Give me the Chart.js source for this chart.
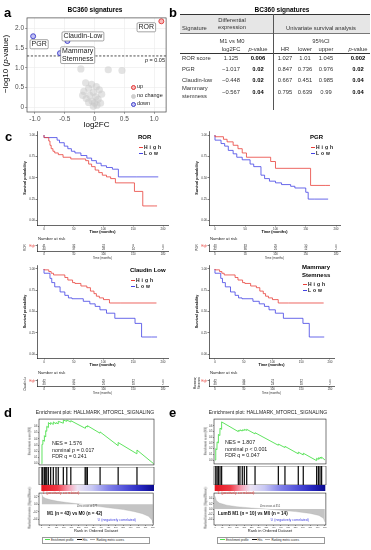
<!DOCTYPE html>
<html>
<head>
<meta charset="utf-8">
<script src="https://cdn.jsdelivr.net/npm/chart.js@4.4.1/dist/chart.umd.min.js"></script>
<style>
  html, body { margin: 0; padding: 0; background: #fff; }
  body { position: relative; width: 371px; height: 550px; overflow: hidden; font-family: "Liberation Sans", Arial, sans-serif; color: #222; }
  canvas { position: absolute; }
  .t { position: absolute; white-space: nowrap; line-height: 1; will-change: transform; }
  .ln { position: absolute; }
</style>
</head>
<body>
<script>
// ---- panel a: volcano
const volXRange = [-1.133, 1.2];
const volYRange = [-0.123, 2.266];
const volXTicks = [-1, -0.5, 0, 0.5, 1];
const volYTicks = [0, 0.5, 1, 1.5, 2];
const volCut = 1.3;
const volUp = [{ x: 1.12, y: 2.18 }];
const volUpNames = ['ROR'];
const volDown = [{ x: -1.03, y: 1.8 }, { x: -0.455, y: 1.68 }, { x: -0.58, y: 1.37 }];
const volDownNames = ['PGR', 'Claudin-Low', 'Mammary\nStemness'];
const volNone = [
  { x: -0.23, y: 0.97 }, { x: 0.23, y: 0.95 }, { x: 0.46, y: 0.93 },
  { x: -0.15, y: 0.62 }, { x: -0.05, y: 0.58 }, { x: 0.03, y: 0.52 }, { x: -0.1, y: 0.48 },
  { x: 0.08, y: 0.44 }, { x: -0.18, y: 0.4 }, { x: -0.02, y: 0.38 }, { x: 0.12, y: 0.33 },
  { x: -0.08, y: 0.3 }, { x: 0.02, y: 0.26 }, { x: -0.14, y: 0.22 }, { x: 0.06, y: 0.2 },
  { x: -0.04, y: 0.15 }, { x: 0.0, y: 0.1 }, { x: -0.1, y: 0.12 }, { x: 0.04, y: 0.05 },
  { x: -0.02, y: 0.02 }, { x: 0.1, y: 0.1 }, { x: -0.2, y: 0.3 }
];

// ---- panel b: table
const tblRows = ['ROR score', 'PGR', 'Claudin-low', 'Mammary<br>stemness'];
const tblLog2FC = ['1.125', '\u22121.017', '\u22120.448', '\u22120.567'];
const tblDeP = ['0.006', '0.02', '0.02', '0.04'];
const tblHR = ['1.027', '0.847', '0.667', '0.795'];
const tblLower = ['1.01', '0.736', '0.451', '0.639'];
const tblUpper = ['1.045', '0.976', '0.985', '0.99'];
const tblSurvP = ['0.002', '0.02', '0.04', '0.04'];

// ---- panel c: Kaplan-Meier curves [months, survival]
const kmXTicks = [0, 50, 100, 150, 200];
const kmYTicks = [0, 0.25, 0.5, 0.75, 1];
const rorHigh = [[0,1],[8,0.97],[10,0.93],[12,0.88],[15,0.84],[18,0.81],[24,0.79],[32,0.77],[45,0.74],[70,0.72],[75,0.7],[80,0.66],[86,0.63],[92,0.59],[98,0.56],[105,0.53],[112,0.51],[120,0.49],[152,0.44],[166,0.34],[185,0.17],[190,0.17]];
const rorLow = [[0,1],[22,0.97],[26,0.94],[34,0.91],[40,0.87],[46,0.84],[52,0.81],[62,0.79],[72,0.76],[80,0.73],[88,0.7],[96,0.67],[105,0.64],[115,0.62],[125,0.6],[155,0.51],[192,0.51]];
const pgrHigh = [[0,1],[14,0.98],[20,0.95],[30,0.92],[38,0.88],[45,0.84],[52,0.79],[92,0.74],[100,0.69],[158,0.61],[182,0.41],[190,0.41]];
const pgrLow = [[0,1],[10,0.94],[16,0.9],[22,0.87],[30,0.82],[36,0.78],[45,0.74],[58,0.71],[64,0.66],[76,0.63],[82,0.53],[90,0.49],[100,0.46],[110,0.44],[125,0.42],[132,0.4],[150,0.38],[154,0.33],[165,0.25],[187,0.25]];
const cldHigh = [[0,1],[8,0.99],[12,0.97],[16,0.95],[35,0.93],[40,0.9],[48,0.87],[52,0.84],[62,0.83],[72,0.8],[78,0.78],[84,0.74],[88,0.71],[93,0.68],[100,0.66],[110,0.64],[128,0.6],[189,0.6]];
const cldLow = [[0,1],[10,0.95],[13,0.89],[18,0.84],[27,0.79],[35,0.73],[41,0.69],[47,0.66],[66,0.65],[77,0.62],[86,0.59],[94,0.56],[105,0.52],[119,0.48],[153,0.42],[164,0.36],[181,0.2],[190,0.2]];
const msHigh = [[0,1],[8,0.99],[12,0.97],[16,0.95],[35,0.93],[40,0.9],[48,0.87],[52,0.84],[62,0.83],[72,0.8],[78,0.78],[84,0.74],[88,0.71],[93,0.68],[100,0.66],[110,0.64],[128,0.6],[189,0.6]];
const msLow = [[0,1],[10,0.95],[13,0.89],[18,0.84],[27,0.79],[35,0.73],[41,0.69],[47,0.66],[66,0.65],[77,0.62],[86,0.59],[94,0.56],[105,0.52],[119,0.48],[153,0.42],[164,0.36],[181,0.2],[190,0.2]];
const riskTimes = [0, 50, 100, 150, 200];
const riskRows = ['High', 'Low'];
const rorRisk = [[41, 32, 22, 8, 0], [44, 37, 28, 14, 2]];
const pgrRisk = [[43, 33, 25, 10, 0], [42, 36, 25, 12, 2]];
const cldRisk = [[42, 37, 25, 12, 0], [43, 32, 25, 10, 2]];
const msRisk = [[42, 36, 27, 12, 0], [43, 33, 23, 10, 2]];

// ---- panels d/e: GSEA [rank, value]
const rankTicks = [0, 50, 100, 150, 200, 250, 300, 350, 400, 450, 500, 550, 600, 650, 700, 750];
const rankMax = 750;
const esTicks = [0, 0.1, 0.2, 0.3, 0.4, 0.5, 0.6];
const dES = [[0,0],[2,0.31],[7,0.31],[8,0.38],[17,0.36],[18,0.45],[26,0.43],[27,0.53],[33,0.52],[34,0.6],[44,0.58],[45,0.66],[59,0.63],[60,0.66],[77,0.63],[78,0.67],[95,0.64],[96,0.66],[110,0.64],[111,0.68],[144,0.65],[145,0.7],[167,0.68],[168,0.7],[194,0.67],[195,0.69],[290,0.57],[291,0.59],[296,0.58],[297,0.6],[305,0.59],[306,0.61],[390,0.49],[391,0.51],[511,0.29],[512,0.34],[637,0.16],[638,0.22],[750,0]];
const dHits = [2, 7, 18, 27, 34, 45, 60, 78, 96, 111, 145, 168, 195, 291, 297, 306, 391, 512, 638];
const dMetric = [[0,0.28],[8,0.2],[25,0.16],[60,0.12],[110,0.08],[170,0.05],[230,0.02],[277,0],[350,-0.04],[450,-0.09],[550,-0.14],[620,-0.19],[680,-0.25],[720,-0.32],[745,-0.42],[750,-0.5]];
const dMetricTicks = [0.2, 0, -0.2, -0.4];
const eES = [[0,0],[5,0.2],[13,0.18],[14,0.32],[22,0.3],[23,0.45],[33,0.43],[34,0.56],[44,0.54],[45,0.67],[158,0.5],[159,0.52],[169,0.51],[170,0.53],[185,0.51],[186,0.53],[199,0.52],[200,0.54],[215,0.52],[216,0.54],[272,0.46],[273,0.48],[431,0.26],[432,0.28],[476,0.22],[477,0.24],[567,0.11],[568,0.14],[601,0.09],[602,0.12],[692,-0.01],[693,0.03],[704,0.01],[705,0.04],[715,0.02],[716,0.05],[726,0.03],[727,0.05],[750,0]];
const eHits = [5, 14, 23, 34, 45, 159, 170, 186, 200, 216, 273, 432, 477, 568, 602, 693, 705, 716, 727];
const eMetric = [[0,0.5],[10,0.32],[30,0.23],[80,0.15],[150,0.09],[250,0.04],[351,0],[450,-0.05],[550,-0.1],[650,-0.17],[710,-0.25],[740,-0.36],[750,-0.5]];
const eMetricTicks = [0.4, 0.2, 0, -0.2, -0.4];

const RED = '#e8403a', BLUE = '#4343e4';
const FONT = '"Liberation Sans", Arial, sans-serif';
Chart.defaults.font.family = FONT;
Chart.defaults.color = '#333';
Chart.defaults.animation = false;

// frame around the plotting area
Chart.register({
  id: 'box',
  afterDraw(chart, args, o) {
    if (!o.color) return;
    const { left, top, right, bottom } = chart.chartArea;
    const c = chart.ctx;
    c.save(); c.strokeStyle = o.color; c.lineWidth = o.width || 0.6;
    c.strokeRect(left, top, right - left, bottom - top);
    c.restore();
  }
});

// put a chart so that its plotting area lands on box [l, t, r, b]; pad = room for axes
function place(box, pad, cfg) {
  const [l, t, r, b] = box, [pl, pt, pr, pb] = pad;
  const cv = document.createElement('canvas');
  const w = r - l + pl + pr, h = b - t + pt + pb;
  cv.width = w; cv.height = h;
  cv.style.left = (l - pl) + 'px'; cv.style.top = (t - pt) + 'px';
  cv.style.width = w + 'px'; cv.style.height = h + 'px';
  document.body.appendChild(cv);
  const o = cfg.options = cfg.options || {};
  o.responsive = false; o.animation = false; o.maintainAspectRatio = false;
  const sx = o.scales.x, sy = o.scales.y;
  const xOn = sx.display !== false, yOn = sy.display !== false;
  if (xOn) sx.afterFit = s => { s.height = pb; };
  if (yOn) sy.afterFit = s => { s.width = pl; };
  o.layout = { padding: { left: yOn ? 0 : pl, top: pt, right: pr, bottom: xOn ? 0 : pb } };
  o.plugins = Object.assign({ legend: { display: false }, tooltip: { enabled: false } }, o.plugins || {});
  return new Chart(cv, cfg);
}
const at = arr => s => { s.ticks = arr.map(v => ({ value: v })); };
const pts = arr => arr.map(([x, y]) => ({ x, y }));

function T(x, y, s, st = {}) {
  const d = document.createElement('div');
  d.className = 't';
  d.innerHTML = s;
  const ax = st.a === 'c' ? -50 : st.a === 'r' ? -100 : 0;
  d.style.cssText = `left:${x}px;top:${y}px;font-size:${st.fs || 6}px;transform:translate(${ax}%,-50%)${st.rot ? ' rotate(-90deg)' : ''};` +
    (st.b ? 'font-weight:bold;' : '') + (st.c ? `color:${st.c};` : '') + (st.css || '');
  document.body.appendChild(d);
  return d;
}
function L(x, y, w, h, color) {
  const d = document.createElement('div');
  d.className = 'ln';
  d.style.cssText = `left:${x}px;top:${y}px;width:${w}px;height:${h}px;background:${color};`;
  document.body.appendChild(d);
}

// ================= a
T(4, 12, 'a', { fs: 13, b: true, c: '#000' });
T(95, 10, 'BC360 signatures', { fs: 6.5, b: true, a: 'c', c: '#000' });
T(6, 64, '\u2212log10 (<i>p</i>-value)', { fs: 8, a: 'c', rot: true, c: '#000' });

const volLabelOffsets = [[-15, 6], [6, 8], [15.5, -4.6], [17.7, 2]];
const volLabels = {
  id: 'volLabels',
  afterDatasetsDraw(chart) {
    const c = chart.ctx, sx = chart.scales.x, sy = chart.scales.y;
    const ps = volUp.concat(volDown), names = volUpNames.concat(volDownNames);
    c.save();
    c.font = '7px ' + FONT;
    c.textBaseline = 'middle';
    names.forEach((name, i) => {
      const lines = name.split('\n');
      const px = sx.getPixelForValue(ps[i].x) + volLabelOffsets[i][0];
      const py = sy.getPixelForValue(ps[i].y) + volLabelOffsets[i][1];
      const w = Math.max(...lines.map(s => c.measureText(s).width)) + 3;
      const h = lines.length * 7.6 + 1.5;
      c.fillStyle = '#fff'; c.strokeStyle = '#666'; c.lineWidth = 0.6;
      c.beginPath(); c.roundRect(px - w / 2, py - h / 2, w, h, 1.2); c.fill(); c.stroke();
      c.fillStyle = '#222';
      lines.forEach((s, j) => c.fillText(s, px - w / 2 + 1.5, py - h / 2 + 0.75 + 7.6 * (j + 0.5)));
    });
    c.restore();
  }
};

const volTickFmt = v => v === 0 ? '0' : v.toFixed(1);
place([27, 15, 167, 112], [27, 2, 4, 20], {
  type: 'scatter',
  data: {
    datasets: [
      { data: volNone, pointRadius: 3.6, backgroundColor: 'rgba(200,200,200,0.5)', borderWidth: 0 },
      { data: volDown, pointRadius: 2.5, backgroundColor: 'rgba(160,160,240,0.65)', borderColor: '#3c3cc8', borderWidth: 0.9 },
      { data: volUp, pointRadius: 2.5, backgroundColor: 'rgba(245,150,150,0.65)', borderColor: '#e03232', borderWidth: 0.9 },
      { data: [{ x: volXRange[0], y: volCut }, { x: volXRange[1], y: volCut }], showLine: true, pointRadius: 0,
        borderColor: '#222', borderWidth: 0.8, borderDash: [2.2, 1.6] }
    ]
  },
  options: {
    scales: {
      x: { type: 'linear', min: volXRange[0], max: volXRange[1], afterBuildTicks: at(volXTicks),
        ticks: { callback: volTickFmt, font: { size: 6.5 }, color: '#4d4d4d', padding: 1, maxRotation: 0 },
        grid: { color: '#ebebeb', lineWidth: 0.6, tickLength: 2, tickColor: '#555', tickWidth: 0.5 },
        border: { display: false },
        title: { display: true, text: 'log2FC', font: { size: 8 }, color: '#000', padding: { top: 0, bottom: 2 } } },
      y: { min: volYRange[0], max: volYRange[1], afterBuildTicks: at(volYTicks),
        ticks: { callback: volTickFmt, font: { size: 6.5 }, color: '#4d4d4d', padding: 1 },
        grid: { color: '#ebebeb', lineWidth: 0.6, tickLength: 2, tickColor: '#555', tickWidth: 0.5 },
        border: { display: false } }
    },
    plugins: { box: { color: '#444', width: 0.7 } }
  },
  plugins: [volLabels]
});

T(165, 61, '<i>p</i> = 0.05', { fs: 5.5, a: 'r', c: '#222' });
[['up', 87, 'rgba(245,150,150,0.65)', '#e03232'], ['no change', 96, '#cfcfcf', '#cfcfcf'], ['down', 104, 'rgba(160,160,240,0.65)', '#3c3cc8']]
  .forEach(([s, y, bg, bd]) => {
    const d = document.createElement('div');
    d.style.cssText = `position:absolute;left:${130.5}px;top:${y - 2.3}px;width:3.4px;height:3.4px;border-radius:50%;background:${bg};border:0.8px solid ${bd};`;
    document.body.appendChild(d);
    T(136.5, y, s, { fs: 5.5, c: '#222' });
  });

// ================= b
T(169, 12, 'b', { fs: 13, b: true, c: '#000' });
T(282, 10, 'BC360 signatures', { fs: 6.5, b: true, a: 'c', c: '#000' });
L(180, 14.5, 190, 19, '#e6e6e6');
L(180, 14, 190, 1, '#333');
L(180, 33, 190, 0.6, '#777');
L(180, 53, 190, 0.9, '#333');
L(272.5, 14, 0.8, 96, '#555');
const TF = 5.8;
T(232, 24, 'Differential<br>expression', { fs: TF, a: 'c', c: '#333', css: 'text-align:center;line-height:1.15;' });
T(182, 29, 'Signature', { fs: TF, c: '#333' });
T(321, 29, 'Univariate survival analysis', { fs: TF, a: 'c', c: '#333' });
T(232, 42, 'M1 vs M0', { fs: TF, a: 'c', c: '#333' });
T(321, 42, '95%CI', { fs: TF, a: 'c', c: '#333' });
const colX = [231, 258, 285, 305, 326, 358];
['log2FC', '<i>p</i>-value', 'HR', 'lower', 'upper', '<i>p</i>-value'].forEach((s, i) => T(colX[i], 50, s, { fs: TF, a: 'c', c: '#333' }));
const rowY = [59, 70, 81, 93];
const cols = [tblLog2FC, tblDeP, tblHR, tblLower, tblUpper, tblSurvP];
tblRows.forEach((s, i) => {
  T(182, rowY[i], s, { fs: TF, c: '#333', css: 'line-height:1.3;' });
  cols.forEach((col, j) => T(colX[j], rowY[i], col[i], { fs: TF, a: 'c', b: j === 1 || j === 5, c: j === 1 || j === 5 ? '#000' : '#333' }));
});

// ================= c
T(5, 136, 'c', { fs: 13, b: true, c: '#000' });

const axisStyle = {
  grid: { drawOnChartArea: false, tickLength: 1.5, tickColor: '#000', tickWidth: 0.5 },
  border: { color: '#000', width: 0.6 }
};
function kmChart(box, xr, yr, hi, lo) {
  const ds = (d, col) => ({ data: pts(d), stepped: 'after', borderColor: col, borderWidth: 0.8, pointRadius: 0, fill: false });
  place(box, [19, 3, 2, 12], {
    type: 'line',
    data: { datasets: [ds(hi, RED), ds(lo, BLUE)] },
    options: {
      scales: {
        x: { type: 'linear', min: xr[0], max: xr[1], afterBuildTicks: at(kmXTicks), ...axisStyle,
          ticks: { font: { size: 3 }, color: '#333', padding: 0.5, maxRotation: 0, autoSkip: false },
          title: { display: true, text: 'Time (months)', font: { size: 3.8, weight: 'bold' }, color: '#000', padding: { top: 0, bottom: 2.7 } } },
        y: { min: yr[0], max: yr[1], afterBuildTicks: at(kmYTicks), ...axisStyle,
          ticks: { callback: v => v.toFixed(2), font: { size: 3 }, color: '#333', padding: 0.5 },
          title: { display: true, text: 'Survival probability', font: { size: 3.6, weight: 'bold' }, color: '#000', padding: { top: 4.8, bottom: 0 } } }
      }
    }
  });
}
function riskChart(box, xr, rows, name) {
  const draw = {
    id: 'riskNums',
    afterDatasetsDraw(chart) {
      const c = chart.ctx, sx = chart.scales.x, sy = chart.scales.y;
      c.save(); c.font = '2.8px ' + FONT; c.fillStyle = '#222'; c.textAlign = 'center'; c.textBaseline = 'middle';
      rows.forEach((row, i) => row.forEach((n, j) => c.fillText(n, sx.getPixelForValue(riskTimes[j]), sy.getPixelForValue(i))));
      c.restore();
    }
  };
  place(box, [19, 0, 2, 10], {
    type: 'scatter',
    data: { datasets: [] },
    options: {
      scales: {
        x: { type: 'linear', min: xr[0], max: xr[1], afterBuildTicks: at(riskTimes), ...axisStyle,
          ticks: { font: { size: 2.8 }, color: '#333', padding: 0.5, maxRotation: 0, autoSkip: false },
          title: { display: true, text: 'Time (months)', font: { size: 3 }, color: '#333', padding: { top: 0, bottom: 1.2 } } },
        y: { type: 'category', labels: riskRows, ...axisStyle, offset: true,
          ticks: { font: { size: 2.8 }, color: ctx => ctx.index === 0 ? RED : BLUE, padding: 0.5 },
          title: { display: true, text: name, font: { size: 3 }, color: '#333', padding: { top: Array.isArray(name) ? 3.6 : 5.2, bottom: 0 } } }
      }
    },
    plugins: [draw]
  });
}
function kmLegend(x, yt, title, yh, yl) {
  T(x, yt, title, { fs: 6, b: true, c: '#000', css: 'line-height:1.3;' });
  [[yh, 'High', RED], [yl, 'Low', BLUE]].forEach(([y, s, col]) => {
    L(x + 1, y - 0.5, 4, 1, col);
    T(x + 5.5, y, s, { fs: 5, b: true, c: '#111', css: 'letter-spacing:2px;' });
  });
}

const topY = [-0.053, 1.047], botY = [-0.047, 1.047];
const xL = [-11.8, 208.4], xR = [-9.9, 206.6], xBR = [-10.4, 207];
kmChart([37, 131, 168, 225], xL, topY, rorHigh, rorLow);
kmChart([209, 131, 340, 225], xR, topY, pgrHigh, pgrLow);
kmChart([37, 265, 168, 358], xL, botY, cldHigh, cldLow);
kmChart([209, 265, 334, 358], xBR, botY, msHigh, msLow);
riskChart([37, 242, 168, 251], xL, rorRisk, 'ROR');
riskChart([209, 242, 340, 251], xR, pgrRisk, 'PGR');
riskChart([37, 377, 168, 386], xL, cldRisk, 'Claudin Low');
riskChart([209, 377, 334, 386], xBR, msRisk, ['Mammary', 'Stemness']);
T(38, 239, 'Number at risk', { fs: 4.2, c: '#222' });
T(210, 239, 'Number at risk', { fs: 4.2, c: '#222' });
T(38, 373, 'Number at risk', { fs: 4.2, c: '#222' });
T(210, 373, 'Number at risk', { fs: 4.2, c: '#222' });
kmLegend(138, 138, 'ROR', 147, 153);
kmLegend(310, 138, 'PGR', 147, 153);
kmLegend(130, 271, 'Claudin Low', 280, 286);
kmLegend(302, 272, 'Mammary<br>Stemness', 284, 290);

// ================= d / e
const barStops = [[0, '#e4141e'], [0.14, '#f03a46'], [0.24, '#f5a0b4'], [0.32, '#ece4f4'], [0.45, '#c8c8f4'], [0.6, '#8080e8'], [0.75, '#5050d8'], [0.88, '#2828c0'], [1, '#0a0a90']];
function gsea(g) {
  const [l, r] = g.lr, xr = g.xr, padL = [15, 0, 1, 0];
  const xHidden = { type: 'linear', display: false, min: xr[0], max: xr[1], offset: false };
  const yTick = { font: { size: 2.6 }, color: '#333', padding: 0.5 };
  // enrichment score
  place([l, g.y[0], r, g.y[1]], padL, {
    type: 'line',
    data: { datasets: [{ data: pts(g.es), borderColor: '#4ee04e', borderWidth: 0.9, pointRadius: 0, tension: 0 }] },
    options: {
      scales: { x: xHidden,
        y: { min: g.esY[0], max: g.esY[1], afterBuildTicks: at(esTicks), ticks: { ...yTick, callback: v => v.toFixed(1) },
          grid: { drawOnChartArea: false, tickLength: 1, tickColor: '#000', tickWidth: 0.4 }, border: { display: false } } },
      plugins: { box: { color: '#222', width: 0.6 } }
    }
  });
  // hits
  place([l, g.y[1], r, g.y[2]], padL, {
    type: 'bar',
    data: { datasets: [{ data: g.hits.map(v => ({ x: v, y: 1 })), backgroundColor: '#111', barThickness: 0.6 }] },
    options: {
      scales: { x: xHidden, y: { display: false, min: 0, max: 1 } },
      plugins: { box: { color: '#222', width: 0.6 } }
    }
  });
  // ranked list colour bar
  place([l, g.y[2], r, g.y[3]], padL, {
    type: 'bar',
    data: { labels: [''], datasets: [{ data: [[0, rankMax]], barPercentage: 1, categoryPercentage: 1,
      backgroundColor: ctx => {
        const ch = ctx.chart, sx = ch.scales.x;
        if (!ch.chartArea || !sx) return '#888';
        const gr = ch.ctx.createLinearGradient(sx.getPixelForValue(0), 0, sx.getPixelForValue(rankMax), 0);
        barStops.forEach(([p, c]) => gr.addColorStop(p, c));
        return gr;
      } }] },
    options: { indexAxis: 'y', scales: { x: xHidden, y: { display: false } } }
  });
  // ranked list metric
  place([l, g.y[3], r, g.y[4]], [15, 0, 1, 9], {
    type: 'line',
    data: { datasets: [{ data: pts(g.metric), fill: 'origin', backgroundColor: '#c4c4c4', borderColor: '#a8a8a8', borderWidth: 0.3, pointRadius: 0 }] },
    options: {
      scales: {
        x: { type: 'linear', min: xr[0], max: xr[1], afterBuildTicks: at(rankTicks),
          ticks: { font: { size: 2.2 }, color: '#333', padding: 0.3, maxRotation: 0, autoSkip: false },
          grid: { drawOnChartArea: false, tickLength: 1, tickColor: '#000', tickWidth: 0.4 }, border: { display: false },
          title: { display: true, text: 'Rank in Ordered Dataset', font: { size: 4 }, color: '#222', padding: { top: 0, bottom: 0.6 } } },
        y: { min: g.mY[0], max: g.mY[1], afterBuildTicks: at(g.mTicks), ticks: { ...yTick, callback: v => v.toFixed(1) },
          grid: { drawOnChartArea: false, tickLength: 1, tickColor: '#000', tickWidth: 0.4 }, border: { display: false } }
      },
      plugins: { box: { color: '#222', width: 0.6 } }
    }
  });
}
gsea({ lr: [39, 154], xr: [-18, 752], y: [417, 467, 485, 491, 525], esY: [-0.019, 0.716], mY: [-0.55, 0.3],
  es: dES, hits: dHits, metric: dMetric, mTicks: dMetricTicks });
gsea({ lr: [214, 326], xr: [-7, 757], y: [417, 466, 485, 491, 525], esY: [-0.069, 0.72], mY: [-0.62, 0.62],
  es: eES, hits: eHits, metric: eMetric, mTicks: eMetricTicks });

function gseaText(cx, yx, nes, bottom, zero, ann) {
  T(cx, 412, 'Enrichment plot: HALLMARK_MTORC1_SIGNALING', { fs: 5, a: 'c', c: '#222' });
  T(yx, 441, 'Enrichment score (ES)', { fs: 2.8, a: 'c', rot: true, c: '#333' });
  T(yx, 508, 'Ranked list metric (Signal2Noise)', { fs: 2.8, a: 'c', rot: true, c: '#333' });
  T(ann[0], ann[1], nes, { fs: 5.3, c: '#222', css: 'line-height:1.25;' });
  T(ann[2], 494, '\'1\' (positively correlated)', { fs: 3.5, c: '#e83030' });
  T(ann[3], 507, zero, { fs: 2.6, c: '#444' });
  T(ann[4], 513.5, bottom, { fs: 4.6, b: true, c: '#111' });
  T(ann[5], 520.5, '\'0\' (negatively correlated)', { fs: 3.5, c: '#3a3ae0' });
  const lg = document.createElement('div');
  lg.style.cssText = `position:absolute;left:${ann[6]}px;top:536.5px;width:106px;height:5.5px;border:0.5px solid #999;font-size:2.8px;line-height:5.5px;color:#222;white-space:nowrap;`;
  lg.innerHTML = '<span style="display:inline-block;width:5px;height:0.8px;background:#4ee04e;vertical-align:middle;margin:0 1px 0 2px"></span>Enrichment profile' +
    '<span style="display:inline-block;width:5px;height:0.6px;background:#111;vertical-align:middle;margin:0 1px 0 3px"></span>Hits' +
    '<span style="display:inline-block;width:5px;height:0.6px;background:#aaa;vertical-align:middle;margin:0 1px 0 3px"></span>Ranking metric scores';
  document.body.appendChild(lg);
}
T(4, 412, 'd', { fs: 13, b: true, c: '#000' });
T(169, 412, 'e', { fs: 13, b: true, c: '#000' });
gseaText(95, 30, 'NES = 1.576<br>nominal <i>p</i> = 0.017<br>FDR q = 0.241', 'M1 (n = 43) vs M0 (n = 42)', 'Zero cross at 277',
  [52, 450, 42, 77, 47, 97, 42]);
gseaText(268, 206, 'NES = 1.807<br>nominal <i>p</i> &lt; 0.001<br>FDR q = 0.047', 'LumB M1 (n = 10) vs M0 (n = 14)', 'Zero cross at 351',
  [225, 449, 217, 260, 218, 270, 217]);
</script>
</body>
</html>
